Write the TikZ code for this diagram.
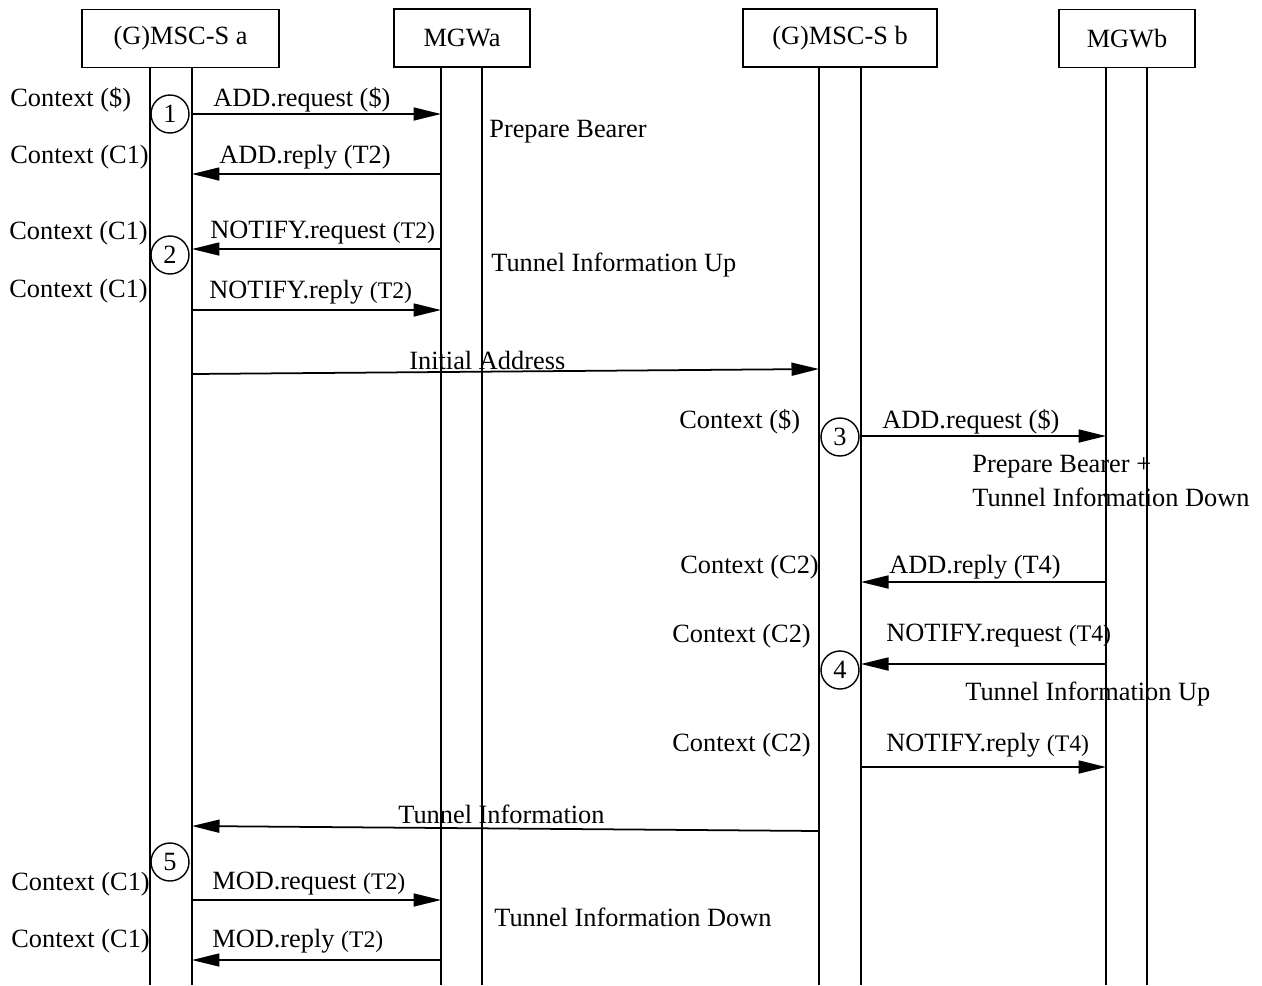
\documentclass[tikz,border=0pt]{standalone}
\usepackage{fontspec}
\setmainfont{Liberation Serif}
\usepackage{tikz}
\usetikzlibrary{arrows.meta,positioning}
\newcommand{\tref}[1]{{\fontsize{13.5pt}{16pt}\selectfont(#1)}}
\tikzset{
  actor/.style={
    rectangle,
    draw=black,
    line width=0.9pt,
    minimum height=11.6mm,
    inner sep=0pt
  },
  lifeline/.style={
    line width=1pt
  },
  msgArrow/.style={
    -{Triangle[length=5.5mm,width=2.6mm]},
    line width=1pt
  },
  stepMark/.style={
    circle,
    draw=black,
    line width=0.8pt,
    minimum size=7.6mm,
    inner sep=0pt
  },
  txt/.style={
    anchor=west,
    inner sep=0pt,
    yshift=-0.4mm
  }
}

\begin{document}
\begin{tikzpicture}[x=0.02cm,y=-0.02cm,font=\fontsize{15pt}{18pt}\selectfont]
  \useasboundingbox (0,0) rectangle (1262,985);
  % entities
  \node[actor,minimum width=39.4mm] (msca) at (180.5,38.5) {\raisebox{-0.4mm}{(G)MSC-S a}\hspace{3.8mm}};
  \node[actor,minimum width=27.2mm] (mgwa) at (462,38) {\raisebox{-0.4mm}{MGWa}};
  \node[actor,minimum width=38.8mm] (mscb) at (840,38) {\raisebox{-0.4mm}{(G)MSC-S b}};
  \node[actor,minimum width=27.2mm] (mgwb) at (1127,38.5) {\raisebox{-0.4mm}{MGWb}};
  % lifelines
  \foreach \name/\xx in {aL/150,aR/192,mL/441,mR/482,bL/819,bR/861,nL/1106,nR/1147}
    \coordinate (\name) at (\xx,67);
  \foreach \name in {aL,aR,mL,mR,bL,bR,nL,nR}
    \draw[lifeline] (\name) -- (\name |- 0,985);
  % steps
  \node[stepMark] (s1) at (170,114) {1};
  \node[stepMark] (s2) at (170,255) {2};
  \node[stepMark] (s3) at (840,437) {3};
  \node[stepMark] (s4) at (840,670) {4};
  \node[stepMark] (s5) at (170,862) {5};
  % messages
  \draw[msgArrow] (aR |- 0,114) -- (mL |- 0,114);
  \draw[msgArrow] (mL |- 0,174) -- (aR |- 0,174);
  \draw[msgArrow] (mL |- 0,249) -- (aR |- 0,249);
  \draw[msgArrow] (aR |- 0,310) -- (mL |- 0,310);
  \draw[msgArrow] (aR |- 0,374) -- (bL |- 0,369);
  \draw[msgArrow] (bR |- 0,436) -- (nL |- 0,436);
  \draw[msgArrow] (nL |- 0,582) -- (bR |- 0,582);
  \draw[msgArrow] (nL |- 0,664) -- (bR |- 0,664);
  \draw[msgArrow] (bR |- 0,767) -- (nL |- 0,767);
  \draw[msgArrow] (bL |- 0,831) -- (aR |- 0,826);
  \draw[msgArrow] (aR |- 0,900) -- (mL |- 0,900);
  \draw[msgArrow] (mL |- 0,960) -- (aR |- 0,960);
  % contexts
  \node[txt] (ctx1) at (10,98) {Context (\$)};
  \node[txt] (ctx2) at (10,155) {Context (C1)};
  \node[txt] (ctx3) at (9,231) {Context (C1)};
  \node[txt] (ctx4) at (9,289) {Context (C1)};
  \node[txt] (ctx5) at (679,420) {Context (\$)};
  \node[txt] (ctx6) at (680,565) {Context (C2)};
  \node[txt] (ctx7) at (672,634) {Context (C2)};
  \node[txt] (ctx8) at (672,743) {Context (C2)};
  \node[txt] (ctx9) at (11,882) {Context (C1)};
  \node[txt] (ctx10) at (11,939) {Context (C1)};
  % message labels
  \node[txt] (lbl1) at (213,98) {ADD.request (\$)};
  \node[txt] (lbl2) at (219,155) {ADD.reply (T2)};
  \node[txt] (lbl3) at (210,231) {NOTIFY.request \tref{T2}};
  \node[txt] (lbl4) at (209,290) {NOTIFY.reply \tref{T2}};
  \node[txt] (lbl5) at (409,358) {Initial Address};
  \node[txt] (lbl6) at (882,420) {ADD.request (\$)};
  \node[txt] (lbl7) at (889,565) {ADD.reply (T4)};
  \node[txt] (lbl8) at (886,634) {NOTIFY.request \tref{T4}};
  \node[txt] (lbl9) at (886,743) {NOTIFY.reply \tref{T4}};
  \node[txt] (lbl10) at (398,812) {Tunnel Information};
  \node[txt] (lbl11) at (212,882) {MOD.request \tref{T2}};
  \node[txt] (lbl12) at (212,939) {MOD.reply \tref{T2}};
  % actions
  \node[txt] (act1) at (489,130) {Prepare Bearer};
  \node[txt] (act2) at (491,263) {Tunnel Information Up};
  \node[txt] (act3) at (972,465) {Prepare Bearer +};
  \node[txt] (act4) at (972,495) {Tunnel Information Down};
  \node[txt] (act5) at (965,692) {Tunnel Information Up};
  \node[txt] (act6) at (494,915) {Tunnel Information Down};
\end{tikzpicture}
\end{document}
